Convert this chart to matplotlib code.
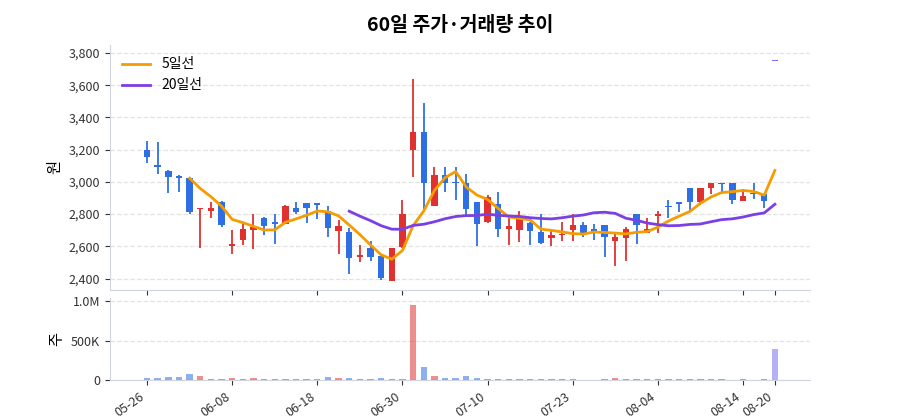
import numpy as np
import pandas as pd
import matplotlib
matplotlib.use("Agg")
import matplotlib.pyplot as plt
from matplotlib.ticker import FuncFormatter

plt.rcParams['font.family'] = ['Noto Sans CJK KR', 'DejaVu Sans']

opens = [3200, 3105, 3070, 3035, 3025, 2830, 2820, 2875, 2600, 2640,
         2700, 2775, 2745, 2740, 2835, 2870, 2870, 2820, 2695, 2690,
         2535, 2590, 2540, 2385, 2595, 3195, 3310, 2850, 3040, 2995,
         2990, 2875, 2750, 2860, 2710, 2700, 2745, 2690, 2650, 2670,
         2700, 2735, 2710, 2730, 2635, 2650, 2800, 2685, 2790, 2850,
         2875, 2960, 2875, 2960, 2995, 2995, 2880, 2930, 2925, 3750]
closes = [3155, 3095, 3030, 3025, 2810, 2835, 2840, 2735, 2615, 2710,
          2720, 2725, 2740, 2850, 2815, 2835, 2855, 2715, 2725, 2530,
          2540, 2535, 2405, 2590, 2800, 3310, 2990, 3040, 2990, 2990,
          2830, 2740, 2905, 2710, 2725, 2785, 2695, 2620, 2670, 2675,
          2735, 2680, 2685, 2655, 2655, 2710, 2730, 2705, 2795, 2845,
          2860, 2875, 2960, 2990, 2985, 2885, 2915, 2925, 2880, 3750]
highs = [3255, 3250, 3075, 3040, 3030, 2835, 2875, 2880, 2700, 2740,
         2800, 2780, 2800, 2855, 2875, 2870, 2870, 2850, 2765, 2715,
         2610, 2635, 2540, 2590, 2885, 3640, 3490, 3090, 3090, 3090,
         3050, 2875, 2920, 2935, 2785, 2820, 2750, 2800, 2710, 2750,
         2800, 2750, 2740, 2730, 2680, 2720, 2800, 2775, 2820, 2890,
         2875, 2960, 2965, 2995, 2995, 2995, 2955, 2995, 2925, 3750]
lows = [3115, 3050, 2930, 2940, 2800, 2590, 2775, 2720, 2550, 2610,
        2585, 2670, 2615, 2740, 2800, 2745, 2770, 2660, 2550, 2425,
        2500, 2510, 2390, 2385, 2590, 3030, 2830, 2850, 2935, 2890,
        2785, 2600, 2745, 2655, 2610, 2625, 2605, 2615, 2600, 2630,
        2635, 2655, 2640, 2535, 2475, 2510, 2615, 2680, 2685, 2775,
        2810, 2820, 2855, 2925, 2930, 2860, 2880, 2895, 2835, 3750]
volumes = [30e3, 25e3, 40e3, 35e3, 75e3, 55e3, 15e3, 15e3, 25e3, 20e3,
           25e3, 8e3, 18e3, 18e3, 15e3, 8e3, 15e3, 45e3, 30e3, 30e3,
           8e3, 15e3, 25e3, 18e3, 20e3, 950e3, 165e3, 55e3, 30e3, 30e3,
           55e3, 30e3, 15e3, 20e3, 15e3, 15e3, 8e3, 15e3, 15e3, 15e3,
           18e3, 5e3, 5e3, 15e3, 30e3, 15e3, 18e3, 8e3, 8e3, 8e3,
           15e3, 8e3, 15e3, 8e3, 8e3, 5e3, 15e3, 5e3, 10e3, 390e3]
tick_pos = [0, 8, 16, 24, 32, 40, 48, 56, 59]
tick_labels = ['05-26', '06-08', '06-18', '06-30', '07-10', '07-23', '08-04', '08-14', '08-20']

RED, BLUE, FLAT = '#e03131', '#2f6fe4', '#7a6ff0'
x = np.arange(len(closes))
ma5 = pd.Series(closes).rolling(5).mean()
ma20 = pd.Series(closes).rolling(20).mean()

fig = plt.figure(figsize=(9, 4.2), dpi=100)
ax = fig.add_axes([0.122, 0.31, 0.778, 0.583])
axv = fig.add_axes([0.122, 0.095, 0.778, 0.195], sharex=ax)

for i in x:
    o, c = opens[i], closes[i]
    col = RED if c > o else (BLUE if c < o else FLAT)
    ax.vlines(i, lows[i], highs[i], color=col, linewidth=1.3, zorder=2)
    h = max(abs(c - o), 8)
    ax.bar(i, h, bottom=min(o, c), width=0.6, color=col, zorder=3)
    axv.bar(i, volumes[i], width=0.6, color=col, alpha=0.55, zorder=3)

ax.plot(x, ma5, color='#f59c00', linewidth=2, label='5일선', zorder=4)
ax.plot(x, ma20, color='#7b3fe4', linewidth=2, label='20일선', zorder=4)
ax.legend(loc='upper left', frameon=False, fontsize=10)

ax.set_ylim(2330, 3850)
ax.set_yticks(range(2400, 3801, 200))
ax.yaxis.set_major_formatter(FuncFormatter(lambda v, p: f'{int(v):,}'))
ax.set_ylabel('원', fontsize=11)
ax.set_xlim(-3.5, 62.3)
ax.tick_params(labelbottom=False)
ax.set_title('60일 주가·거래량 추이', fontsize=14, fontweight='bold', pad=10)

axv.set_ylim(0, 1.04e6)
axv.set_yticks([0, 5e5, 1e6])
axv.set_yticklabels(['0', '500K', '1.0M'])
axv.set_ylabel('주', fontsize=11)
axv.set_xticks(tick_pos)
axv.set_xticklabels(tick_labels, rotation=35, ha='right', fontsize=9)

for a in (ax, axv):
    a.grid(axis='y', linestyle='--', color='#e3e3e3', linewidth=0.9)
    a.set_axisbelow(True)
    for s in ('top', 'right'):
        a.spines[s].set_visible(False)
    for s in ('left', 'bottom'):
        a.spines[s].set_color('#d0d4dc')
    a.tick_params(colors='#333333', labelsize=9)

fig.savefig('out.png')
